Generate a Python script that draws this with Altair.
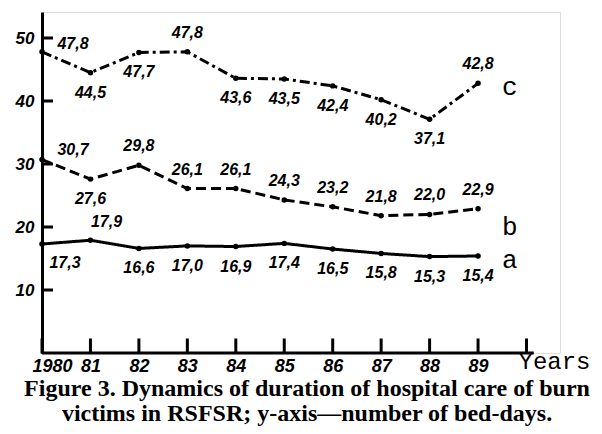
import altair as alt
import pandas as pd

# ---- data ----
years = [1980, 1981, 1982, 1983, 1984, 1985, 1986, 1987, 1988, 1989]
series_a = [17.3, 17.9, 16.6, 17.0, 16.9, 17.4, 16.5, 15.8, 15.3, 15.4]
series_b = [30.7, 27.6, 29.8, 26.1, 26.1, 24.3, 23.2, 21.8, 22.0, 22.9]
series_c = [47.8, 44.5, 47.7, 47.8, 43.6, 43.5, 42.4, 40.2, 37.1, 42.8]
series_names = ["a", "b", "c"]
x_tick_years = [1980, 1981, 1982, 1983, 1984, 1985, 1986, 1987, 1988, 1989, 1990]
y_tick_values = [10, 20, 30, 40, 50]
x_axis_title = "Years"
caption = [
    "Figure 3. Dynamics of duration of hospital care of burn",
    "victims in RSFSR; y-axis\u2014number of bed-days.",
]

# ---- label placement (style only) ----
label_place = {
    "a": ["a80", "a81", "below", "below", "below", "below", "below", "below", "below", "below"],
    "b": ["b80", "below", "above", "above", "above", "above", "above", "above", "above", "above"],
    "c": ["c80", "below", "below", "above", "below", "below", "below", "below", "below", "above"],
}
place_offsets = {
    "above": (0, -19),
    "below": (0, 20),
    "c80": (31, -8),
    "b80": (31, -10),
    "a80": (23, 19),
    "a81": (16, -18),
}
series_dy = {"a": 12, "b": 26, "c": 12}

values = {"a": series_a, "b": series_b, "c": series_c}
rows = []
for s in series_names:
    for i, yr in enumerate(years):
        rows.append({"year": yr, "value": values[s][i], "series": s, "place": label_place[s][i]})
df = pd.DataFrame(rows)

W, H = 518, 341
XMAX = 1980 + W / 48.45
YMAX = H / 6.3

xscale = alt.Scale(domain=[1980, XMAX], nice=False, zero=False)
yscale = alt.Scale(domain=[0, YMAX], nice=False, zero=True)

x_axis = alt.Axis(
    values=years, domain=False, ticks=False, grid=False,
    labelExpr="datum.value == 1980 ? '1980' : substring(toString(datum.value), 2)",
    labelFont="Liberation Sans", labelFontSize=18, labelFontStyle="italic",
    labelFontWeight="bold", labelColor="black", labelPadding=4,
    labelFlush=True, labelFlushOffset=10, labelOverlap=False,
    title=x_axis_title, titleFont="Liberation Mono", titleFontSize=24,
    titleFontWeight="normal", titleColor="black", titleAlign="left",
    titleBaseline="middle", titleX=476, titleY=8,
)
y_axis = alt.Axis(
    values=y_tick_values, domain=True, domainColor="black", domainWidth=3,
    ticks=False, grid=False, labelFont="Liberation Sans", labelFontSize=17,
    labelFontStyle="italic", labelFontWeight="bold", labelColor="black",
    labelPadding=8, title=None,
)

X = alt.X("year:Q", scale=xscale, axis=x_axis)
Y = alt.Y("value:Q", scale=yscale, axis=y_axis)

base = alt.Chart(df)

lines = base.mark_line(color="black", strokeWidth=3).encode(
    x=X, y=Y,
    strokeDash=alt.StrokeDash(
        "series:N",
        scale=alt.Scale(domain=series_names, range=[[1, 0], [10, 5], [10, 4, 3, 4]]),
        legend=None,
    ),
    detail="series:N",
)
dots = base.mark_circle(color="black", size=30, opacity=1).encode(x=X, y=Y)

label_layers = []
for code, (dx, dy) in place_offsets.items():
    label_layers.append(
        base.transform_filter(alt.datum.place == code)
        .transform_calculate(label="replace(format(datum.value, '.1f'), '.', ',')")
        .mark_text(font="Liberation Sans", fontSize=16, fontStyle="italic",
                   fontWeight="bold", color="black", dx=dx, dy=dy,
                   align="center", baseline="middle")
        .encode(x=X, y=Y, text="label:N")
    )

name_layers = []
for s in series_names:
    name_layers.append(
        base.transform_filter((alt.datum.series == s) & (alt.datum.year == years[-1]))
        .mark_text(font="Liberation Mono", fontSize=26, color="black",
                   align="left", baseline="alphabetic", dx=24, dy=series_dy[s])
        .encode(x=X, y=Y, text="series:N")
    )

# inward tick marks of both axes (decoration)
yticks = (
    alt.Chart(alt.Data(values=[{"tv": v} for v in y_tick_values]))
    .mark_rule(color="black", strokeWidth=3)
    .encode(y=alt.Y("tv:Q", scale=yscale, axis=y_axis), x=alt.value(0), x2=alt.value(11))
)
xticks = (
    alt.Chart(alt.Data(values=[{"ty": v} for v in x_tick_years]))
    .mark_tick(color="black", thickness=3, size=15, orient="vertical", opacity=1)
    .encode(x=alt.X("ty:Q", scale=xscale, axis=x_axis), y=alt.value(H - 7))
)
baseline = (
    alt.Chart(pd.DataFrame({"start": [1980]}))
    .transform_calculate(end="1990.15", zero="0")
    .mark_rule(color="black", strokeWidth=3)
    .encode(
        x=alt.X("start:Q", scale=xscale, axis=x_axis), x2="end:Q",
        y=alt.Y("zero:Q", scale=yscale, axis=y_axis),
    )
)

chart = alt.layer(baseline, yticks, xticks, lines, dots, *label_layers, *name_layers).properties(
    width=W, height=H,
    padding={"left": 34, "top": 4, "right": 34, "bottom": 73},
    autosize=alt.AutoSizeParams(type="none"),
    title=alt.TitleParams(
        text=caption, orient="bottom", anchor="middle", frame="group",
        font="Liberation Serif", fontSize=24, fontWeight="bold", color="black",
        lineHeight=25, offset=2, dx=6,
    ),
).configure_view(stroke=None).configure(background="white")

chart.save("out.html", embed_options={"renderer": "svg", "actions": False})
